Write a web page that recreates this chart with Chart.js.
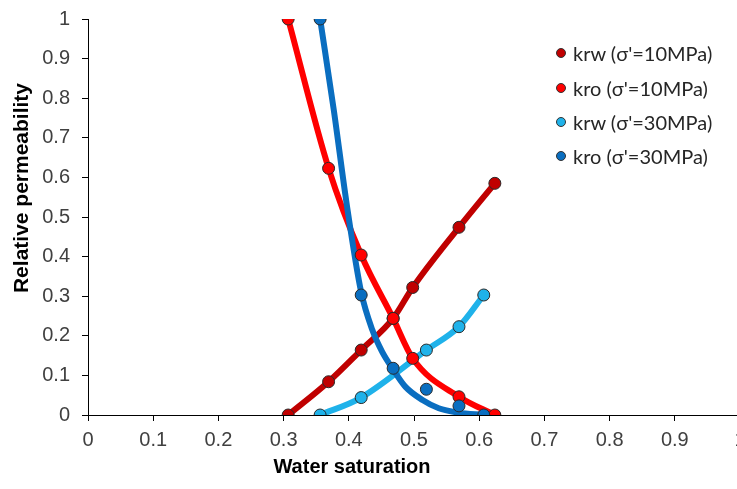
<!DOCTYPE html>
<html>
<head>
<meta charset="utf-8">
<script src="https://cdn.jsdelivr.net/npm/chart.js@4.4.0/dist/chart.umd.min.js"></script>
<style>
  html, body { margin: 0; padding: 0; background: #fff; overflow: hidden; }
  #wrap { position: relative; width: 760px; height: 489px; }
  #legend { position: absolute; left: 0; top: 0; }
  .item { position: absolute; left: 554px; height: 26px; line-height: 26px; white-space: nowrap;
          font-family: Lato, "Open Sans", sans-serif; font-size: 20px; color: #262626; }
  .dot { position: absolute; left: 2px; top: 8px; width: 10px; height: 10px; border-radius: 50%;
         border: 1px solid #333; box-sizing: border-box; }
  .lbl { position: absolute; left: 19px; top: 0; }
</style>
</head>
<body>
<div id="wrap">
  <canvas id="chart" width="760" height="489"></canvas>
  <div id="legend"></div>
</div>
<script>
// valores (Sw, kr)
const seriesNames = ["krw (σ'=10MPa)", "kro (σ'=10MPa)", "krw (σ'=30MPa)", "kro (σ'=30MPa)"];
const seriesColors = ["#C00000", "#FF0000", "#1FB2EA", "#0A6EC0"];

const swKrw10 = [0.307, 0.369, 0.419, 0.468, 0.498, 0.569, 0.624];
const krw10   = [0, 0.084, 0.164, 0.244, 0.322, 0.474, 0.585];
const swKro10 = [0.307, 0.369, 0.419, 0.468, 0.498, 0.569, 0.624];
const kro10   = [1, 0.623, 0.404, 0.244, 0.143, 0.046, 0];
const swKrw30 = [0.356, 0.419, 0.519, 0.569, 0.607];
const krw30   = [0, 0.044, 0.164, 0.223, 0.303];
const swKro30 = [0.356, 0.419, 0.468, 0.519, 0.569, 0.607];
const kro30   = [1, 0.303, 0.118, 0.065, 0.023, 0];

// linha de tendência do kro 30MPa (passa abaixo de alguns pontos)
const swKro30Trend = [0.356, 0.377, 0.397, 0.419, 0.436, 0.451, 0.468, 0.487, 0.513, 0.538, 0.568, 0.607];
const kro30Trend   = [1, 0.77, 0.53, 0.31, 0.215, 0.16, 0.115, 0.071, 0.038, 0.017, 0.006, 0];

const xTitle = "Water saturation";
const yTitle = "Relative permeability";

function pts(xs, ys) {
  return xs.map((x, i) => ({ x, y: ys[i] }));
}

const markerSets = [
  pts(swKrw10, krw10),
  pts(swKro10, kro10),
  pts(swKrw30, krw30),
  pts(swKro30, kro30)
];
const lineSets = [
  pts(swKrw10, krw10),
  pts(swKro10, kro10),
  pts(swKrw30, krw30),
  pts(swKro30Trend, kro30Trend)
];

const datasets = [];
lineSets.forEach((d, i) => {
  datasets.push({
    label: seriesNames[i] + " trend",
    data: d,
    showLine: true,
    borderColor: seriesColors[i],
    borderWidth: 6,
    pointRadius: 0,
    cubicInterpolationMode: "monotone",
    order: 10 - i
  });
});
markerSets.forEach((d, i) => {
  datasets.push({
    label: seriesNames[i],
    data: d,
    showLine: false,
    backgroundColor: seriesColors[i],
    pointBackgroundColor: seriesColors[i],
    pointBorderColor: "#2a2a2a",
    pointBorderWidth: 1,
    pointRadius: 6,
    order: 4 - i
  });
});

const axisTitles = {
  id: "axisTitles",
  afterDraw(chart) {
    const ctx = chart.ctx;
    ctx.save();
    ctx.fillStyle = "#000";
    ctx.textAlign = "center";
    ctx.textBaseline = "middle";
    ctx.font = "bold 20px 'Liberation Sans', Arial, sans-serif";
    ctx.fillText(xTitle, 352, 467);
    ctx.translate(22, 188);
    ctx.rotate(-Math.PI / 2);
    ctx.font = "bold 21px 'Liberation Sans', Arial, sans-serif";
    ctx.fillText(yTitle, 0, 0);
    ctx.restore();
  }
};

const tickFont = { family: "'Liberation Sans', Arial, sans-serif", size: 20 };
const fmt = v => String(Math.round(v * 10) / 10);

const chart = new Chart(document.getElementById("chart"), {
  type: "scatter",
  data: { datasets },
  options: {
    responsive: false,
    animation: false,
    layout: { padding: { left: 0, top: 19, right: 20, bottom: 0 } },
    plugins: { legend: { display: false }, tooltip: { enabled: false } },
    scales: {
      x: {
        type: "linear",
        min: 0, max: 1,
        ticks: { stepSize: 0.1, font: tickFont, color: "#404040", padding: 7, maxRotation: 0, callback: fmt },
        grid: { drawOnChartArea: false, tickLength: 6, tickColor: "#000" },
        border: { color: "#000", width: 1 },
        afterFit: s => { s.height = 74; s.paddingLeft = 0; s.paddingRight = 0; }
      },
      y: {
        min: 0, max: 1,
        ticks: { stepSize: 0.1, font: tickFont, color: "#404040", padding: 12, callback: fmt },
        grid: { drawOnChartArea: false, tickLength: 6, tickColor: "#000" },
        border: { color: "#000", width: 1 },
        afterFit: s => { s.width = 88; s.paddingTop = 0; s.paddingBottom = 0; }
      }
    }
  },
  plugins: [axisTitles]
});

// legenda em HTML, a partir dos datasets de marcadores
const legendTops = [40, 75, 109, 143];
const legend = document.getElementById("legend");
chart.data.datasets.filter(d => !d.showLine).forEach((d, i) => {
  const div = document.createElement("div");
  div.className = "item";
  div.style.top = legendTops[i] + "px";
  div.innerHTML = `<span class="dot" style="background:${d.backgroundColor}"></span><span class="lbl"></span>`;
  div.querySelector(".lbl").textContent = d.label;
  legend.appendChild(div);
});
</script>
</body>
</html>
